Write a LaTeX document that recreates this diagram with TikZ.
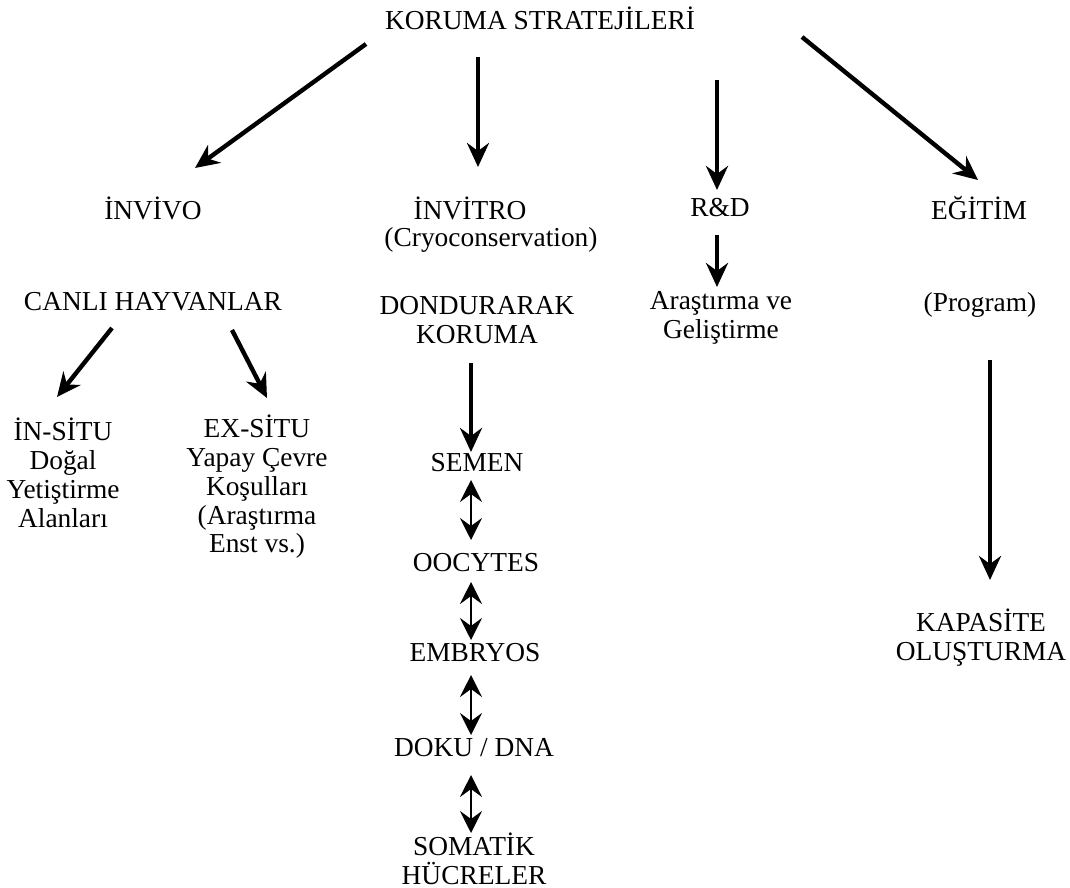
\documentclass[tikz,border=0pt]{standalone}
\usepackage{fontspec}
\setmainfont{Liberation Serif}
\usetikzlibrary{arrows.meta}

\begin{document}
\begin{tikzpicture}[x=0.5pt,y=-0.5pt,
    lbl/.style={align=center,inner sep=0pt,font=\fontsize{13.7}{14.4}\selectfont},
    arr/.style={line width=2.2pt,-{Stealth[length=12pt,width=11pt,inset=4pt]}},
    darr/.style={line width=1pt,{Stealth[length=11pt,width=11pt,inset=4pt]}-{Stealth[length=11pt,width=11pt,inset=4pt]}}]
    \useasboundingbox (0,0) rectangle (1070,888);

    \node[lbl] (root) at (540,18) {KORUMA STRATEJİLERİ};
    \node[lbl] (invivo) at (153,208) {İNVİVO};
    \node[lbl] (invitro) at (470,208) {İNVİTRO};
    \node[lbl] (cryo) at (491,240) {(Cryoconservation)};
    \node[lbl] (rd) at (720,208) {R\&D};
    \node[lbl] (egitim) at (979,208) {EĞİTİM};

    \node[lbl] (canli) at (153,302) {CANLI HAYVANLAR};
    \node[lbl] (dond) at (477,320) {DONDURARAK\\KORUMA};
    \node[lbl] (arge) at (721,318) {Araştırma ve\\Geliştirme};
    \node[lbl] (program) at (980,305) {(Program)};

    \node[lbl] (insitu) at (63,473) {İN-SİTU\\Doğal\\Yetiştirme\\Alanları};
    \node[lbl] (exsitu) at (257,487) {EX-SİTU\\Yapay Çevre\\Koşulları\\(Araştırma\\Enst vs.)};

    \node[lbl] (semen) at (477,463) {SEMEN};
    \node[lbl] (oocytes) at (476,563) {OOCYTES};
    \node[lbl] (embryos) at (475,653) {EMBRYOS};
    \node[lbl] (doku) at (474,748) {DOKU / DNA};
    \node[lbl] (somatik) at (474,859) {SOMATİK\\HÜCRELER};
    \node[lbl] (kapasite) at (981,638) {KAPASİTE\\OLUŞTURMA};

    \coordinate (root-l) at (366,44);   \coordinate (invivo-t) at (195,168);
    \coordinate (root-m) at (478,57);   \coordinate (invitro-t) at (478,167);
    \coordinate (root-rd) at (717,80);  \coordinate (rd-t) at (717,190);
    \coordinate (root-r) at (802,37);   \coordinate (egitim-t) at (978,180);
    \coordinate (rd-b) at (717,235);    \coordinate (arge-t) at (717,287);
    \coordinate (canli-l) at (112,328); \coordinate (insitu-t) at (57,397);
    \coordinate (canli-r) at (232,330); \coordinate (exsitu-t) at (267,398);
    \coordinate (dond-b) at (471,363);  \coordinate (semen-t) at (471,452);
    \coordinate (program-b) at (990,360); \coordinate (kapasite-t) at (990,580);

    \draw[arr] (root-l) -- (invivo-t);
    \draw[arr] (root-m) -- (invitro-t);
    \draw[arr] (root-rd) -- (rd-t);
    \draw[arr] (root-r) -- (egitim-t);
    \draw[arr] (rd-b) -- (arge-t);
    \draw[arr] (canli-l) -- (insitu-t);
    \draw[arr] (canli-r) -- (exsitu-t);
    \draw[arr] (dond-b) -- (semen-t);
    \draw[arr] (program-b) -- (kapasite-t);

    \draw[darr] (471,480) -- (471,540);
    \draw[darr] (471,582) -- (471,640);
    \draw[darr] (471,675) -- (471,735);
    \draw[darr] (471,775) -- (471,833);
\end{tikzpicture}
\end{document}
